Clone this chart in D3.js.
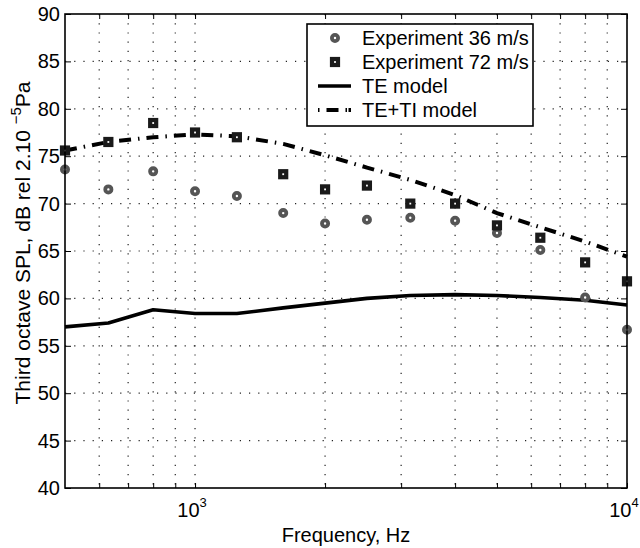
<!DOCTYPE html>
<html>
<head>
<meta charset="utf-8">
<script src="https://cdn.jsdelivr.net/npm/d3@7"></script>
<style>
  body { margin: 0; background: #fff; }
  svg text { font-family: "Liberation Sans", Arial, sans-serif; }
</style>
</head>
<body>
<div id="viz"></div>
<script>
const margin = {top: 14, right: 13, bottom: 60, left: 65};
const width = 640;
const height = 548;

// third octave band centres (Hz)
const freqs = [500, 630, 800, 1000, 1250, 1600, 2000, 2500, 3150, 4000, 5000, 6300, 8000, 10000];
// measured SPL
const exp36 = [73.6, 71.5, 73.4, 71.3, 70.8, 69.0, 67.9, 68.3, 68.5, 68.2, 66.9, 65.1, 60.1, 56.7];
const exp72 = [75.6, 76.5, 78.5, 77.5, 77.0, 73.1, 71.5, 71.9, 70.0, 70.0, 67.7, 66.4, 63.8, 61.8];
// model predictions
const teModel = [57.0, 57.4, 58.8, 58.4, 58.4, 59.0, 59.5, 60.0, 60.3, 60.4, 60.3, 60.1, 59.8, 59.3];
const tetiModel = [75.6, 76.5, 77.0, 77.3, 77.1, 76.3, 75.1, 73.8, 72.5, 70.9, 69.0, 67.5, 66.0, 64.4];

const xGrid = [600, 700, 800, 900, 1000, 2000, 3000, 4000, 5000, 6000, 7000, 8000, 9000];
const xMajor = [1000, 10000];
const yTicks = [40, 45, 50, 55, 60, 65, 70, 75, 80, 85, 90];

const legendLabels = ['Experiment 36 m/s', 'Experiment 72 m/s', 'TE model', 'TE+TI model'];

const x = d3.scaleLog()
    .domain([500, 10000])
    .range([margin.left, width - margin.right]);
const y = d3.scaleLinear()
    .domain([40, 90])
    .range([height - margin.bottom, margin.top]);

const svg = d3.select('#viz')
  .append('svg')
    .attr('width', width)
    .attr('height', height);

// dotted grid
const grid = svg.append('g').attr('class', 'grid')
    .attr('stroke', '#222')
    .attr('stroke-width', 1.2)
    .attr('stroke-dasharray', '1.2,8');
grid.selectAll('.vg')
  .data(xGrid)
  .join('line')
    .attr('x1', d => x(d)).attr('x2', d => x(d))
    .attr('y1', y(90)).attr('y2', y(40));
grid.selectAll('.hg')
  .data(yTicks.filter(d => d > 40 && d < 90))
  .join('line')
    .attr('x1', x(500)).attr('x2', x(10000))
    .attr('y1', d => y(d)).attr('y2', d => y(d));

// axes (ticks pointing inward, box on)
const noLabel = d => '';
svg.append('g')
    .attr('transform', `translate(0,${y(40)})`)
    .call(d3.axisTop(x).tickValues(xGrid.concat(xMajor)).tickSize(5).tickFormat(noLabel))
    .call(g => g.select('.domain').remove());
svg.append('g')
    .attr('transform', `translate(0,${y(90)})`)
    .call(d3.axisBottom(x).tickValues(xGrid.concat(xMajor)).tickSize(5).tickFormat(noLabel))
    .call(g => g.select('.domain').remove());
svg.append('g')
    .attr('transform', `translate(${x(500)},0)`)
    .call(d3.axisRight(y).tickValues(yTicks).tickSize(6).tickFormat(noLabel))
    .call(g => g.select('.domain').remove());
svg.append('g')
    .attr('transform', `translate(${x(10000)},0)`)
    .call(d3.axisLeft(y).tickValues(yTicks).tickSize(6).tickFormat(noLabel))
    .call(g => g.select('.domain').remove());
svg.selectAll('.tick line').attr('stroke', '#000').attr('stroke-width', 1);

// y tick labels
svg.append('g')
  .selectAll('text')
  .data(yTicks)
  .join('text')
    .attr('x', x(500) - 5)
    .attr('y', d => y(d))
    .attr('dy', '0.35em')
    .attr('text-anchor', 'end')
    .style('font-size', '20px')
    .text(d => d);

// x tick labels, 10^n
const xl = svg.append('g')
  .selectAll('text')
  .data(xMajor)
  .join('text')
    .attr('x', d => x(d) - 3)
    .attr('y', 517)
    .attr('text-anchor', 'middle')
    .style('font-size', '20px');
xl.append('tspan').text('10');
xl.append('tspan').attr('dy', -10).style('font-size', '13px').text(d => Math.log10(d));

// axis titles
svg.append('text')
    .attr('x', (x(500) + x(10000)) / 2)
    .attr('y', 542)
    .attr('text-anchor', 'middle')
    .style('font-size', '20px')
    .text('Frequency, Hz');
const yl = svg.append('text')
    .attr('transform', `translate(30,243) rotate(-90)`)
    .attr('text-anchor', 'middle')
    .style('font-size', '21px');
yl.append('tspan').text('Third octave SPL, dB rel 2.10 ');
yl.append('tspan').attr('dy', -9).style('font-size', '15px').text('\u22125');
yl.append('tspan').attr('dy', 9).text('Pa');

// model lines
const line = d3.line()
    .x((d, i) => x(freqs[i]))
    .y(d => y(d));
svg.append('path')
    .attr('d', line(teModel))
    .attr('fill', 'none')
    .attr('stroke', '#000')
    .attr('stroke-width', 3.6)
    .attr('stroke-linejoin', 'round');
svg.append('path')
    .attr('d', line(tetiModel))
    .attr('fill', 'none')
    .attr('stroke', '#000')
    .attr('stroke-width', 4)
    .attr('stroke-dasharray', '12,7,1.5,7');

// experiment markers
svg.append('g')
  .selectAll('circle')
  .data(exp36)
  .join('circle')
    .attr('cx', (d, i) => x(freqs[i]))
    .attr('cy', d => y(d))
    .attr('r', 3.1)
    .attr('fill', '#fff')
    .attr('stroke', '#555')
    .attr('stroke-width', 3.8);
svg.append('g')
  .selectAll('rect')
  .data(exp72)
  .join('rect')
    .attr('x', (d, i) => x(freqs[i]) - 3)
    .attr('y', d => y(d) - 3)
    .attr('width', 6)
    .attr('height', 6)
    .attr('fill', '#fff')
    .attr('stroke', '#1a1a1a')
    .attr('stroke-width', 4.2);

// frame
svg.append('rect')
    .attr('x', x(500)).attr('y', y(90))
    .attr('width', x(10000) - x(500))
    .attr('height', y(40) - y(90))
    .attr('fill', 'none')
    .attr('stroke', '#000')
    .attr('stroke-width', 1.6);

// legend
const lg = svg.append('g');
lg.append('rect')
    .attr('x', 307).attr('y', 24)
    .attr('width', 226).attr('height', 102)
    .attr('fill', '#fff')
    .attr('stroke', '#000')
    .attr('stroke-width', 1.6);
const rows = lg.selectAll('g.row')
  .data(legendLabels)
  .join('g')
    .attr('class', 'row')
    .attr('transform', (d, i) => `translate(0,${38 + i * 24})`);
rows.append('text')
    .attr('x', 362)
    .attr('dy', '0.35em')
    .style('font-size', '20px')
    .text(d => d);
lg.append('circle')
    .attr('cx', 335).attr('cy', 38).attr('r', 3.1)
    .attr('fill', '#fff').attr('stroke', '#555').attr('stroke-width', 3.8);
lg.append('rect')
    .attr('x', 335 - 3).attr('y', 62 - 3).attr('width', 6).attr('height', 6)
    .attr('fill', '#fff').attr('stroke', '#1a1a1a').attr('stroke-width', 4.2);
lg.append('line')
    .attr('x1', 318).attr('x2', 351).attr('y1', 86).attr('y2', 86)
    .attr('stroke', '#000').attr('stroke-width', 3.6);
lg.append('line')
    .attr('x1', 318).attr('x2', 351).attr('y1', 110).attr('y2', 110)
    .attr('stroke', '#000').attr('stroke-width', 4)
    .attr('stroke-dasharray', '1.5,7,12,7,1.5');
</script>
</body>
</html>
